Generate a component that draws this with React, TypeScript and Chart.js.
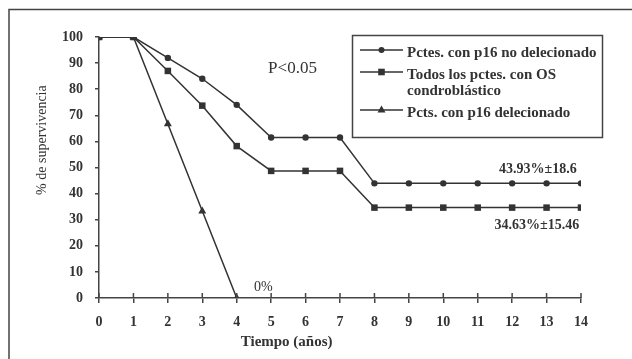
import React, { useEffect, useRef } from "react";
import { Chart, registerables } from "chart.js";

Chart.register(...registerables);

const years = [0, 1, 2, 3, 4, 5, 6, 7, 8, 9, 10, 11, 12, 13, 14];
const noDelecionado = [100, 100, 92, 84, 74, 61.5, 61.5, 61.5, 43.93, 43.93, 43.93, 43.93, 43.93, 43.93, 43.93];
const todos = [100, 100, 87, 73.7, 58.2, 48.7, 48.7, 48.7, 34.63, 34.63, 34.63, 34.63, 34.63, 34.63, 34.63];
const delecionadoYears = [0, 1, 2, 3, 4];
const delecionado = [100, 100, 66.7, 33.3, 0];

const seriesLabels = [
  "Pctes. con p16 no delecionado",
  "Todos los pctes. con OS\ncondroblástico",
  "Pcts. con p16 delecionado",
];
const pointStyles = ["circle", "rect", "triangle"];
const xTitle = "Tiempo (años)";
const yTitle = "% de supervivencia";
const pText = "P<0.05";

// annotations: [text, x value, y value, placement]
const notes: [string, number, number, string][] = [
  ["43.93%±18.6", 12.75, 43.93, "above"],
  ["34.63%±15.46", 12.72, 34.63, "below"],
  ["0%", 4.77, 0, "above"],
];

const INK = "#333";
const SERIF = "'Liberation Serif', 'Times New Roman', serif";

function drawMarker(ctx: CanvasRenderingContext2D, style: string, x: number, y: number) {
  ctx.beginPath();
  if (style === "circle") {
    ctx.arc(x, y, 3, 0, Math.PI * 2);
  } else if (style === "rect") {
    ctx.rect(x - 3.3, y - 3.3, 6.6, 6.6);
  } else {
    ctx.moveTo(x, y - 4.5);
    ctx.lineTo(x + 4, y + 2.5);
    ctx.lineTo(x - 4, y + 2.5);
    ctx.closePath();
  }
  ctx.fill();
}

const decorPlugin = {
  id: "decor",
  afterDraw(chart: any) {
    const ctx: CanvasRenderingContext2D = chart.ctx;
    const xs = chart.scales.x;
    const ys = chart.scales.y;
    ctx.save();
    // outer frame
    ctx.strokeStyle = "#444";
    ctx.lineWidth = 1.5;
    ctx.beginPath();
    ctx.moveTo(9, 359);
    ctx.lineTo(9, 9.5);
    ctx.lineTo(632, 9.5);
    ctx.stroke();

    // x ticks upward part
    ctx.lineWidth = 1.5;
    ctx.beginPath();
    for (const v of years) {
      const px = xs.getPixelForValue(v);
      ctx.moveTo(px, ys.getPixelForValue(0) - 5);
      ctx.lineTo(px, ys.getPixelForValue(0));
    }
    ctx.stroke();

    ctx.fillStyle = INK;
    // axis titles
    ctx.font = `bold 15px ${SERIF}`;
    ctx.textAlign = "center";
    ctx.textBaseline = "middle";
    ctx.fillText(xTitle, xs.getPixelForValue(5.45), 342);
    ctx.save();
    ctx.translate(42, ys.getPixelForValue(60.5));
    ctx.rotate(-Math.PI / 2);
    ctx.font = `14px ${SERIF}`;
    ctx.fillText(yTitle, 0, 0);
    ctx.restore();

    // P value
    ctx.font = `17px ${SERIF}`;
    ctx.fillText(pText, xs.getPixelForValue(5.62), ys.getPixelForValue(88));

    // annotations
    for (const [t, xv, yv, pos] of notes) {
      ctx.font = t === "0%" ? `14px ${SERIF}` : `bold 14px ${SERIF}`;
      const off = t === "0%" ? -11 : pos === "above" ? -14 : 18;
      ctx.fillText(t, xs.getPixelForValue(xv), ys.getPixelForValue(yv) + off);
    }

    // legend
    const bx = 352.5, by = 35.5, bw = 250, bh = 102;
    ctx.strokeStyle = "#444";
    ctx.lineWidth = 1.5;
    ctx.strokeRect(bx, by, bw, bh);
    const rowY = [53, 75, 113];
    ctx.textAlign = "left";
    ctx.font = `bold 15px ${SERIF}`;
    chart.data.datasets.forEach((ds: any, i: number) => {
      const ly = rowY[i] - 3;
      ctx.strokeStyle = ds.borderColor;
      ctx.lineWidth = 1.3;
      ctx.beginPath();
      ctx.moveTo(360, ly);
      ctx.lineTo(403, ly);
      ctx.stroke();
      ctx.fillStyle = ds.borderColor;
      drawMarker(ctx, pointStyles[i], 381.5, ly);
      ctx.fillStyle = INK;
      const lines = seriesLabels[i].split("\n");
      lines.forEach((ln, k) => ctx.fillText(ln, 407, rowY[i] + k * 16.5));
    });
    ctx.restore();
  },
};

export default function App() {
  const ref = useRef<HTMLCanvasElement | null>(null);
  useEffect(() => {
    if (!ref.current) return;
    const mk = (xv: number[], yv: number[]) => xv.map((x, i) => ({ x, y: yv[i] }));
    const common = {
      borderColor: INK,
      backgroundColor: INK,
      borderWidth: 1.5,
      pointBorderWidth: 0,
      tension: 0,
    };
    const chart = new Chart(ref.current, {
      type: "line",
      data: {
        datasets: [
          { ...common, label: seriesLabels[0], data: mk(years, noDelecionado), pointStyle: "circle", pointRadius: 3.2, order: 2 },
          { ...common, label: seriesLabels[1], data: mk(years, todos), pointStyle: "rect", pointRadius: 4.6, order: 1 },
          { ...common, label: seriesLabels[2], data: mk(delecionadoYears, delecionado), pointStyle: "triangle", pointRadius: 4.6, order: 0 },
        ],
      },
      options: {
        animation: false,
        responsive: false,
        layout: { padding: { left: 0, right: 51, top: 37, bottom: 0 } },
        plugins: { legend: { display: false }, tooltip: { enabled: false } },
        scales: {
          x: {
            type: "linear",
            min: 0,
            max: 14,
            afterFit: (s: any) => { s.height = 61; },
            ticks: { stepSize: 1, color: INK, font: { family: SERIF, size: 14, weight: "bold" }, padding: 11 },
            grid: { drawOnChartArea: false, drawTicks: true, tickLength: 5, color: "#444", lineWidth: 1.5 },
            border: { display: true, color: "#444", width: 1.5 },
          },
          y: {
            min: 0,
            max: 100,
            afterFit: (s: any) => { s.width = 99; },
            ticks: { stepSize: 10, color: INK, font: { family: SERIF, size: 14, weight: "bold" }, padding: 12 },
            grid: { drawOnChartArea: false, drawTicks: true, tickLength: 4, color: "#444", lineWidth: 1.5 },
            border: { display: true, color: "#444", width: 1.5 },
          },
        },
      },
      plugins: [decorPlugin],
    } as any);
    return () => chart.destroy();
  }, []);
  return (
    <div style={{ position: "absolute", left: 0, top: 0, width: 632, height: 359, background: "#fff" }}>
      <canvas ref={ref} width={632} height={359} />
    </div>
  );
}
